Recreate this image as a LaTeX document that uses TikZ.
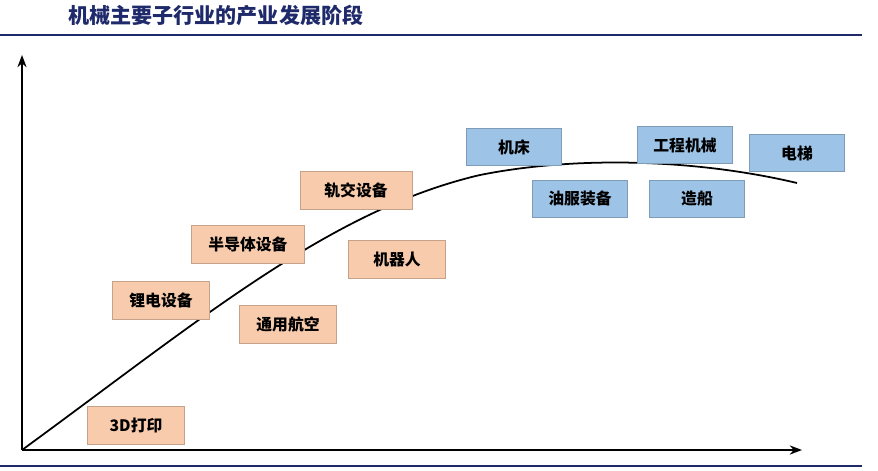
\documentclass[tikz,border=0pt]{standalone}
\usepackage{fontspec}
\setmainfont{Noto Sans CJK SC}
\usetikzlibrary{arrows.meta}
\definecolor{titleblue}{HTML}{1F2A6B}
\definecolor{boxorange}{HTML}{F8CBAD}
\definecolor{boxblue}{HTML}{9DC3E6}
\tikzset{
  warm/.style={fill=boxorange, draw=boxorange!80!black, line width=0.3pt, minimum width=1.94cm, minimum height=0.76cm, font=\small\bfseries},
  cool/.style={fill=boxblue, draw=boxblue!80!black, line width=0.3pt, minimum width=1.9cm, minimum height=0.74cm, font=\small\bfseries},
}
\begin{document}
\begin{tikzpicture}[x=0.02cm, y=-0.02cm]
\useasboundingbox (0,0) rectangle (878,470);
% title and rules
\node[anchor=west, font=\bfseries\large, text=titleblue] (title) at (62,15) {机械主要子行业的产业发展阶段};
\draw[titleblue, line width=1pt] (0,35) -- (862,35);
\draw[titleblue, line width=1pt] (0,466) -- (862,466);
% axes
\coordinate (o) at (22,450);
\coordinate (ytop) at (22,55);
\coordinate (xend) at (802,450);
\draw[-{Stealth[length=7pt]}, line width=0.8pt] (o) -- (ytop);
\draw[-{Stealth[length=7pt]}, line width=0.8pt] (o) -- (xend);
% curve
\coordinate (cend) at (797,183);
\draw[line width=1pt] (o) .. controls (200,320) and (330,210) .. (480,175)
  .. controls (580,155) and (700,160) .. (cend);
% boxes
\node[warm] (print) at (136,425) {3D打印};
\node[warm] (lithium) at (161,300) {锂电设备};
\node[warm] (aviation) at (288,324) {通用航空};
\node[warm, minimum width=2.26cm] (semi) at (248,244) {半导体设备};
\node[warm] (robot) at (397,259) {机器人};
\node[warm, minimum width=2.24cm] (rail) at (356,190) {轨交设备};
\node[cool] (tool) at (514,147) {机床};
\node[cool] (oil) at (580,199) {油服装备};
\node[cool] (constr) at (685,145) {工程机械};
\node[cool] (ship) at (697,199) {造船};
\node[cool] (lift) at (797,153) {电梯};
\end{tikzpicture}
\end{document}
